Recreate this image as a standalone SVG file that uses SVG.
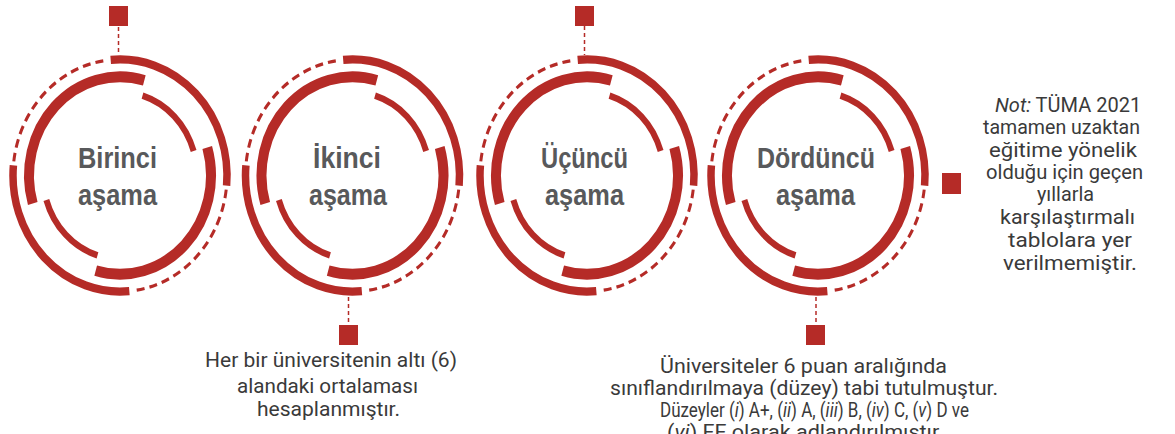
<svg xmlns="http://www.w3.org/2000/svg" xmlns:xlink="http://www.w3.org/1999/xlink" width="1175" height="434" viewBox="0 0 1175 434">
<style>
.ring{fill:none;stroke:#b52b27;stroke-linecap:butt}
.o{stroke-width:7.5}
.od{stroke-width:3;stroke-dasharray:8 5}
.m{stroke-width:10}
.i{stroke-width:6}
.sq{fill:#b52b27}
.con{stroke:#b52b27;stroke-width:1.5;stroke-dasharray:4 3;fill:none}
.lbl{font-family:"Liberation Sans",Arial,sans-serif;font-weight:bold;font-size:29px;fill:#58595b}
.txt{font-family:Roboto,"Liberation Sans",sans-serif;font-size:20px;fill:#3a3a3a}
.it{font-style:italic}
</style>
<defs>
<g id="rings">
<path class="ring o" d="M-9.33,-106.59 A107,107 0 0 1 106.59,9.33"/>
<path class="ring od" d="M106.2,13.04 A107,107 0 0 1 13.04,106.2"/>
<path class="ring o" d="M9.33,106.59 A107,107 0 0 1 -106.59,-9.33"/>
<path class="ring od" d="M-106.2,-13.04 A107,107 0 0 1 -13.04,-106.2"/>
<path class="ring m" d="M87.25,-25.84 A91,91 0 0 1 -24.32,87.69"/>
<path class="ring m" d="M-87.25,25.84 A91,91 0 0 1 24.32,-87.69"/>
<path class="ring i" d="M22.51,-73.63 A77,77 0 0 1 73.63,-22.51"/>
<path class="ring i" d="M-22.51,73.63 A77,77 0 0 1 -73.63,22.51"/>
</g>
</defs>
<g id="connectors">
<line class="con" x1="118.5" y1="27" x2="118.5" y2="55"/>
<line class="con" x1="584.5" y1="26" x2="584.5" y2="55"/>
<line class="con" x1="348.5" y1="297" x2="348.5" y2="325"/>
<line class="con" x1="816" y1="297" x2="816" y2="325"/>
</g>
<g id="stage1">
<use xlink:href="#rings" transform="translate(120,175.5) scale(1,1.085)"/>
<text class="lbl" x="78" y="168" textLength="79" lengthAdjust="spacingAndGlyphs">Birinci</text>
<text class="lbl" x="78" y="205" textLength="79" lengthAdjust="spacingAndGlyphs">aşama</text>
</g>
<g id="stage2">
<use xlink:href="#rings" transform="translate(352.5,175.5) scale(1,1.085)"/>
<text class="lbl" x="313" y="168" textLength="68" lengthAdjust="spacingAndGlyphs">İkinci</text>
<text class="lbl" x="309" y="205" textLength="78" lengthAdjust="spacingAndGlyphs">aşama</text>
</g>
<g id="stage3">
<use xlink:href="#rings" transform="translate(587,175.5) scale(1,1.085)"/>
<text class="lbl" x="541" y="168" textLength="87" lengthAdjust="spacingAndGlyphs">Üçüncü</text>
<text class="lbl" x="545" y="205" textLength="79" lengthAdjust="spacingAndGlyphs">aşama</text>
</g>
<g id="stage4">
<use xlink:href="#rings" transform="translate(818,175.5) scale(1,1.085)"/>
<text class="lbl" x="757" y="168" textLength="118" lengthAdjust="spacingAndGlyphs">Dördüncü</text>
<text class="lbl" x="776" y="205" textLength="79" lengthAdjust="spacingAndGlyphs">aşama</text>
</g>
<g id="marker-top1"><rect class="sq" x="109" y="6" width="19" height="20"/></g>
<g id="marker-top3"><rect class="sq" x="575" y="6" width="19" height="20"/></g>
<g id="marker-bottom2"><rect class="sq" x="339" y="325" width="19" height="20"/></g>
<g id="marker-bottom4"><rect class="sq" x="806" y="325" width="19" height="20"/></g>
<g id="marker-right"><rect class="sq" x="942" y="173" width="19" height="21"/></g>
<g id="note-bottom-left">
<text class="txt" x="205" y="367" textLength="252" lengthAdjust="spacingAndGlyphs">Her bir üniversitenin altı (6)</text>
<text class="txt" x="237" y="393" textLength="181" lengthAdjust="spacingAndGlyphs">alandaki ortalaması</text>
<text class="txt" x="257" y="416" textLength="143" lengthAdjust="spacingAndGlyphs">hesaplanmıştır.</text>
</g>
<g id="note-bottom-right">
<text class="txt" x="660" y="373" textLength="287" lengthAdjust="spacingAndGlyphs">Üniversiteler 6 puan aralığında</text>
<text class="txt" x="610" y="395" textLength="388" lengthAdjust="spacingAndGlyphs">sınıflandırılmaya (düzey) tabi tutulmuştur.</text>
<text class="txt" transform="translate(660,417) scale(0.851,1)" x="0" y="0">Düzeyler (<tspan class="it">i</tspan>) A+, (<tspan class="it">ii</tspan>) A, (<tspan class="it">iii</tspan>) B, (<tspan class="it">iv</tspan>) C, (<tspan class="it">v</tspan>) D ve</text>
<text class="txt" transform="translate(667,439) scale(1.08,1)" x="0" y="0">(<tspan class="it">vi</tspan>) FF olarak adlandırılmıştır.</text>
</g>
<g id="note-right">
<text class="txt" x="995" y="112"><tspan class="it">Not:</tspan> TÜMA 2021</text>
<text class="txt" x="983" y="134" textLength="157" lengthAdjust="spacingAndGlyphs">tamamen uzaktan</text>
<text class="txt" x="989" y="157" textLength="148" lengthAdjust="spacingAndGlyphs">eğitime yönelik</text>
<text class="txt" x="986" y="179" textLength="157" lengthAdjust="spacingAndGlyphs">olduğu için geçen</text>
<text class="txt" x="1037" y="201" textLength="57" lengthAdjust="spacingAndGlyphs">yıllarla</text>
<text class="txt" x="1000" y="224" textLength="135" lengthAdjust="spacingAndGlyphs">karşılaştırmalı</text>
<text class="txt" x="1008" y="247" textLength="124" lengthAdjust="spacingAndGlyphs">tablolara yer</text>
<text class="txt" x="1003" y="270" textLength="134" lengthAdjust="spacingAndGlyphs">verilmemiştir.</text>
</g>
</svg>
